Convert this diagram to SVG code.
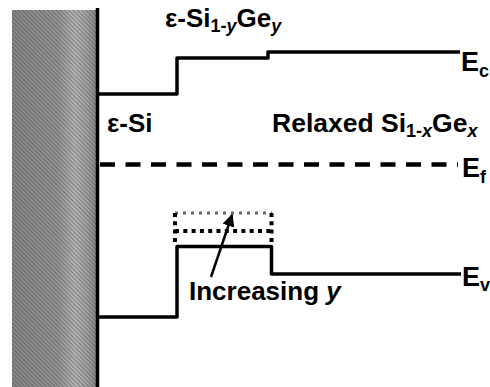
<svg xmlns="http://www.w3.org/2000/svg" width="490" height="387" viewBox="0 0 490 387">
<defs>
<linearGradient id="g" x1="0" y1="0" x2="1" y2="0">
<stop offset="0" stop-color="#8c8c8c"/>
<stop offset="0.55" stop-color="#9a9a9a"/>
<stop offset="0.75" stop-color="#bdbdbd"/>
<stop offset="0.9" stop-color="#a8a8a8"/>
<stop offset="1" stop-color="#8e8e8e"/>
</linearGradient>
<pattern id="h" width="3" height="3" patternUnits="userSpaceOnUse" patternTransform="rotate(45)">
<rect width="3" height="1.2" fill="#333" fill-opacity="0.45"/>
</pattern>
<marker id="ah" viewBox="0 0 10 10" refX="9" refY="5" markerWidth="5" markerHeight="5" orient="auto" markerUnits="strokeWidth">
<path d="M0,0 L10,5 L0,10 Z" fill="#000"/>
</marker>
<style>
.band{fill:none;stroke:#000;stroke-width:3.5;stroke-linejoin:round}
.t{font-family:"Liberation Sans",Arial,sans-serif;font-weight:bold;fill:#000}
.sub{font-size:18px}
</style>
</defs>
<g id="substrate">
<rect x="12" y="10" width="84" height="377" fill="url(#g)"/>
<rect x="12" y="10" width="84" height="377" fill="url(#h)"/>
<line x1="97.5" y1="8" x2="97.5" y2="387" stroke="#000" stroke-width="3.5"/>
</g>
<g id="connectors">
<path id="Ec-band" class="band" d="M98 94 H177 V58 H268 V52 H460"/>
<line id="Ef-line" x1="100" y1="164.5" x2="458" y2="164.5" stroke="#000" stroke-width="4.5" stroke-dasharray="15 10.5"/>
<path id="Ev-band" class="band" d="M98 317 H177 V246.5 H271.5 V274 H461"/>
<g id="dotted-box">
<line x1="175" y1="213" x2="272" y2="213" stroke="#666" stroke-width="3" stroke-dasharray="3 5"/>
<line x1="175" y1="231" x2="272" y2="231" stroke="#000" stroke-width="4" stroke-dasharray="4 4.3"/>
<line x1="175" y1="213" x2="175" y2="246" stroke="#000" stroke-width="4" stroke-dasharray="4 4.3"/>
<line x1="271.5" y1="213" x2="271.5" y2="246" stroke="#000" stroke-width="4" stroke-dasharray="4 4.3"/>
</g>
<line id="arrow" x1="211" y1="277" x2="232" y2="215" stroke="#000" stroke-width="2.5" marker-end="url(#ah)"/>
</g>
<g id="labels">
<text id="lbl-sige" class="t" x="165" y="27" font-size="26">ε-Si<tspan class="sub" dy="5">1-<tspan font-style="italic">y</tspan></tspan><tspan dy="-5">Ge</tspan><tspan class="sub" dy="5" font-style="italic">y</tspan></text>
<text id="lbl-si" class="t" x="107" y="132" font-size="26">ε-Si</text>
<text id="lbl-relaxed" class="t" x="272" y="132" font-size="26.5">Relaxed Si<tspan class="sub" dy="5">1-<tspan font-style="italic">x</tspan></tspan><tspan dy="-5">Ge</tspan><tspan class="sub" dy="5" font-style="italic">x</tspan></text>
<text id="lbl-ec" class="t" x="461" y="71" font-size="27">E<tspan class="sub" dy="6">c</tspan></text>
<text id="lbl-ef" class="t" x="462" y="177" font-size="27">E<tspan class="sub" dy="6">f</tspan></text>
<text id="lbl-ev" class="t" x="462" y="286" font-size="27">E<tspan class="sub" dy="5">v</tspan></text>
<text id="lbl-inc" class="t" x="189" y="300" font-size="26">Increasing <tspan font-style="italic">y</tspan></text>
</g>
</svg>
